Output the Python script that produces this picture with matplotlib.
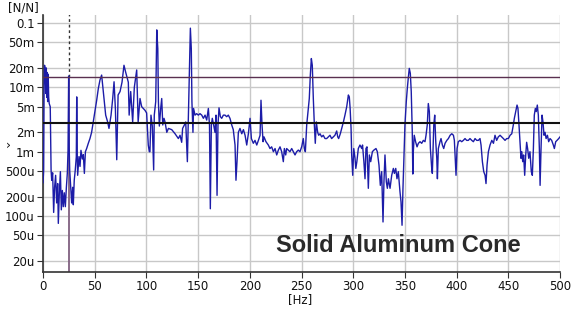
import numpy as np
import matplotlib.pyplot as plt
from matplotlib.ticker import FixedLocator, FixedFormatter, NullLocator

# frequency response (Hz, N/N)
freq = [0.0, 0.6, 1.0, 1.5, 2.2, 2.8, 3.2, 3.6, 4.0, 4.5, 5.0, 5.5, 6.0, 7.0, 7.4, 7.8,
        8.4, 9.3, 10.3, 11.2, 12.2, 13.2, 14.2, 14.8, 15.8, 16.8, 17.7, 18.7, 19.6, 20.6,
        21.6, 22.6, 23.5, 24.2, 24.8, 25.3, 25.8, 26.8, 27.7, 28.7, 29.3, 30.2, 31.2, 32.2,
        32.6, 33.1, 33.5, 34.8, 35.8, 36.7, 38.0, 39.0, 40.0, 41.0, 42.2, 43.8, 45.4, 47.0,
        48.6, 50.3, 51.9, 53.5, 55.1, 56.7, 58.3, 60.6, 62.5, 63.8, 65.8, 67.4, 68.7, 70.0,
        71.3, 72.6, 74.5, 76.4, 78.3, 80.0, 82.5, 83.3, 84.8, 86.7, 88.3, 90.6, 92.0, 93.8,
        95.4, 98.6, 100.2, 101.8, 102.8, 103.4, 104.4, 105.7, 107.0, 107.6, 109.0, 110.0,
        111.0, 111.6, 112.5, 113.8, 114.8, 115.8, 117.0, 118.0, 119.7, 121.3, 124.5, 127.7,
        130.9, 132.5, 134.1, 135.0, 136.7, 138.0, 139.6, 140.6, 141.6, 142.5, 143.4, 144.0,
        145.0, 145.6, 147.0, 148.6, 150.2, 151.8, 153.5, 155.1, 156.7, 158.3, 159.9, 161.0,
        161.8, 162.8, 163.7, 165.0, 166.3, 167.3, 168.3, 169.2, 170.2, 171.5, 172.8, 174.4,
        176.0, 177.6, 179.2, 180.8, 182.5, 184.0, 185.7, 186.6, 187.6, 188.9, 190.5, 192.2,
        193.8, 195.4, 197.0, 198.6, 200.2, 201.5, 203.4, 205.0, 206.7, 208.3, 209.9, 210.8,
        211.8, 212.8, 213.7, 215.6, 217.9, 219.5, 221.1, 222.8, 224.4, 226.0, 227.6, 229.2,
        230.8, 232.4, 233.4, 234.7, 235.6, 237.2, 238.8, 240.5, 242.1, 243.7, 245.3, 246.9,
        248.5, 250.2, 251.7, 252.7, 253.7, 255.0, 256.3, 257.5, 258.5, 259.5, 260.4, 261.4,
        262.4, 263.3, 264.3, 265.6, 266.6, 267.9, 269.5, 271.0, 272.7, 274.3, 275.9, 277.5,
        279.1, 280.7, 282.3, 284.0, 285.0, 285.9, 287.5, 288.9, 290.5, 292.0, 293.7, 295.3,
        296.2, 297.0, 297.9, 298.5, 299.5, 300.5, 301.7, 302.5, 303.5, 304.9, 306.5, 308.2,
        309.0, 310.3, 311.4, 312.3, 313.3, 314.6, 315.6, 316.9, 318.5, 320.0, 322.0, 323.3,
        324.9, 326.2, 327.5, 328.8, 329.7, 330.7, 332.0, 333.0, 334.0, 335.6, 337.2, 338.8,
        339.8, 341.1, 342.3, 343.6, 345.2, 346.2, 347.2, 348.1, 349.1, 350.0, 351.3, 352.3,
        353.2, 354.2, 355.2, 356.1, 357.1, 357.6, 358.1, 359.0, 360.3, 361.7, 363.0, 364.6,
        366.2, 367.8, 369.4, 370.4, 371.6, 372.6, 373.6, 374.6, 375.9, 376.5, 377.9, 378.8,
        379.8, 380.8, 381.4, 382.3, 383.9, 384.9, 386.2, 387.5, 388.8, 390.5, 392.0, 393.7,
        395.3, 396.9, 397.8, 398.5, 399.4, 400.4, 401.6, 403.3, 404.9, 406.5, 408.1, 409.7,
        411.3, 412.9, 414.6, 416.2, 417.8, 419.4, 421.0, 422.6, 423.6, 424.9, 425.8, 426.2,
        427.5, 428.4, 429.4, 430.7, 432.3, 434.0, 435.6, 437.1, 438.7, 440.3, 442.0, 443.6,
        445.2, 446.8, 448.4, 450.0, 451.7, 453.3, 454.8, 455.8, 457.1, 458.4, 459.3, 460.3,
        461.2, 462.2, 463.0, 463.9, 464.8, 465.8, 466.8, 467.7, 468.7, 469.7, 470.9, 472.2,
        473.2, 474.2, 475.1, 476.1, 477.0, 478.0, 479.0, 480.0, 480.7, 481.6, 482.6, 483.5,
        484.5, 485.5, 486.5, 487.8, 489.0, 490.3, 491.9, 493.5, 494.5, 495.8, 497.1, 498.7,
        500.0]
mag = [0.00033, 0.0005, 0.008, 0.022, 0.018, 0.008, 0.020, 0.007, 0.017, 0.006, 0.016, 0.007,
       0.0056, 0.005, 0.0015, 0.00052, 0.00036, 0.00047, 0.000114, 0.00028, 0.00043, 0.00016,
       0.00032, 0.000077, 0.00023, 0.00049, 0.000125, 0.00025, 0.00014, 0.00023, 0.00014,
       0.00028, 0.00046, 0.00105, 0.015, 0.0012, 0.00052, 0.00028, 0.00016, 0.00028, 0.00015,
       0.00036, 0.00052, 0.00084, 0.0071, 0.0009, 0.00043, 0.00084, 0.00059, 0.00105, 0.00077,
       0.0009, 0.00046, 0.001, 0.00112, 0.00135, 0.0016, 0.002, 0.0029, 0.0042, 0.0063, 0.0096,
       0.013, 0.0155, 0.0086, 0.0037, 0.0029, 0.0023, 0.0037, 0.0067, 0.0122, 0.0046, 0.00075,
       0.0076, 0.0086, 0.012, 0.022, 0.017, 0.012, 0.0037, 0.0086, 0.0029, 0.010, 0.0186,
       0.0029, 0.0067, 0.005, 0.0044, 0.004, 0.00127, 0.001, 0.001, 0.0037, 0.0025, 0.00052,
       0.0037, 0.006, 0.078, 0.040, 0.006, 0.0025, 0.0047, 0.0067, 0.0026, 0.0033, 0.0029,
       0.002, 0.0023, 0.0022, 0.0019, 0.0016, 0.0018, 0.0014, 0.0023, 0.0026, 0.0029, 0.0007,
       0.0037, 0.022, 0.083, 0.040, 0.006, 0.002, 0.0047, 0.0037, 0.0039, 0.0037, 0.0039,
       0.0037, 0.0033, 0.0037, 0.0031, 0.0047, 0.0026, 0.00013, 0.0026, 0.0033, 0.0026, 0.002,
       0.0037, 0.00021, 0.0026, 0.0048, 0.0035, 0.0033, 0.0037, 0.0037, 0.0035, 0.0037, 0.0033,
       0.0026, 0.0022, 0.00127, 0.00036, 0.0007, 0.002, 0.0023, 0.0019, 0.0022, 0.0018,
       0.00127, 0.0019, 0.0033, 0.0016, 0.00135, 0.0015, 0.00127, 0.0015, 0.0018, 0.0063,
       0.0026, 0.00143, 0.0017, 0.00143, 0.00127, 0.00112, 0.00119, 0.001, 0.00112, 0.00089,
       0.00106, 0.00119, 0.001, 0.0007, 0.00112, 0.00089, 0.00112, 0.00106, 0.001, 0.00112,
       0.001, 0.00089, 0.001, 0.00106, 0.001, 0.0012, 0.0016, 0.00112, 0.001, 0.0026, 0.0042,
       0.0067, 0.0155, 0.028, 0.022, 0.0067, 0.0026, 0.00135, 0.0029, 0.002, 0.0018, 0.0019,
       0.0017, 0.0018, 0.0016, 0.0016, 0.0017, 0.0018, 0.0016, 0.0017, 0.0018, 0.0021, 0.0017,
       0.0016, 0.0019, 0.0023, 0.0029, 0.0037, 0.005, 0.0076, 0.0071, 0.0047, 0.0023, 0.00089,
       0.00043, 0.00112, 0.0008, 0.00055, 0.0007, 0.00112, 0.00127, 0.00112, 0.00127, 0.0007,
       0.00038, 0.00112, 0.00119, 0.00027, 0.00089, 0.0007, 0.001, 0.00106, 0.00112, 0.001,
       0.00062, 0.0003, 0.00049, 0.000081, 0.00034, 0.00089, 0.00034, 0.00027, 0.00038,
       0.00027, 0.00043, 0.00055, 0.00046, 0.00055, 0.00038, 0.00049, 0.00024, 0.000166,
       0.000072, 0.00027, 0.00089, 0.0026, 0.006, 0.0096, 0.0138, 0.0197, 0.0165, 0.0086,
       0.002, 0.00045, 0.001, 0.0018, 0.00143, 0.00119, 0.00135, 0.00143, 0.00135, 0.0015,
       0.00143, 0.0018, 0.0026, 0.0056, 0.0042, 0.00112, 0.00055, 0.00046, 0.0026, 0.0037,
       0.00143, 0.00079, 0.00038, 0.00112, 0.00143, 0.0016, 0.00127, 0.00112, 0.00135, 0.0015,
       0.0016, 0.0018, 0.0019, 0.0018, 0.0015, 0.00089, 0.00043, 0.00112, 0.00143, 0.0015,
       0.00143, 0.0015, 0.0016, 0.0015, 0.0015, 0.0016, 0.0015, 0.00143, 0.0016, 0.0015,
       0.0015, 0.0016, 0.00127, 0.0007, 0.00055, 0.00049, 0.00043, 0.00032, 0.00062, 0.001,
       0.00127, 0.0015, 0.00135, 0.0018, 0.0015, 0.0017, 0.0018, 0.0017, 0.0016, 0.0015,
       0.0016, 0.0016, 0.0018, 0.0019, 0.0026, 0.0033, 0.0042, 0.0053, 0.0047, 0.0026, 0.00143,
       0.00079, 0.001, 0.0007, 0.00089, 0.00043, 0.00089, 0.0014, 0.0011, 0.00079, 0.001,
       0.00049, 0.00043, 0.0011, 0.0037, 0.0047, 0.0042, 0.0053, 0.0037, 0.0011, 0.0003,
       0.0011, 0.0037, 0.0029, 0.0018, 0.002, 0.0016, 0.0018, 0.00143, 0.0016, 0.0015,
       0.00127, 0.00112, 0.00143, 0.0015, 0.0016, 0.0017]

upper_limit = 0.0146
lower_limit = 0.00275
cursor_hz = 25

ytick_vals = [2e-5, 5e-5, 1e-4, 2e-4, 5e-4, 1e-3, 2e-3, 5e-3, 1e-2, 2e-2, 5e-2, 0.1]
ytick_labels = ['20u', '50u', '100u', '200u', '500u', '1m', '2m', '5m', '10m', '20m', '50m', '0.1']
xtick_vals = [0, 50, 100, 150, 200, 250, 300, 350, 400, 450, 500]

fig = plt.figure(figsize=(5.75, 3.12), dpi=100)
ax = fig.add_axes([0.0748, 0.128, 0.8992, 0.824])

ax.plot(freq, mag, color='#1c1ca8', lw=1.0, zorder=3)
ax.axhline(upper_limit, color='#5a3050', lw=1.0, zorder=4)
ax.axhline(lower_limit, color='#111111', lw=1.5, zorder=4)
ax.plot([cursor_hz, cursor_hz], [1e-6, upper_limit], color='#806080', lw=1.3, zorder=2)
ax.plot([cursor_hz, cursor_hz], [upper_limit, 1], color='#333333', lw=1.0, ls=(0, (2, 2)), zorder=2)

ax.set_yscale('log')
ax.set_xlim(0, 500)
ax.set_ylim(1.35e-5, 0.133)
ax.yaxis.set_major_locator(FixedLocator(ytick_vals))
ax.yaxis.set_major_formatter(FixedFormatter(ytick_labels))
ax.yaxis.set_minor_locator(NullLocator())
ax.set_xticks(xtick_vals)
ax.grid(True, color='#c8c8c8', lw=1.0)
ax.set_axisbelow(True)

for s in ['top', 'right']:
    ax.spines[s].set_visible(False)
for s in ['left', 'bottom']:
    ax.spines[s].set_color('#333333')
    ax.spines[s].set_linewidth(1.2)
ax.tick_params(labelsize=8.5, length=4, color='#333333', labelcolor='#111111', pad=2)

fig.text(8 / 575, 1 - 8 / 312, '[N/N]', fontsize=8.5, va='center', ha='left', color='#111111')
fig.text(6 / 575, 1 - 145 / 312, '\u203a', fontsize=9, va='center', ha='left', color='#111111')
fig.text(300 / 575, 1 - 300 / 312, '[Hz]', fontsize=8.5, va='center', ha='center', color='#111111')
ax.text(0.924, 0.105, 'Solid Aluminum Cone', transform=ax.transAxes, ha='right', va='center',
        fontsize=17, fontweight='bold', family='Liberation Sans', color='#2a2a2a')

fig.savefig('out.png', dpi=100)
